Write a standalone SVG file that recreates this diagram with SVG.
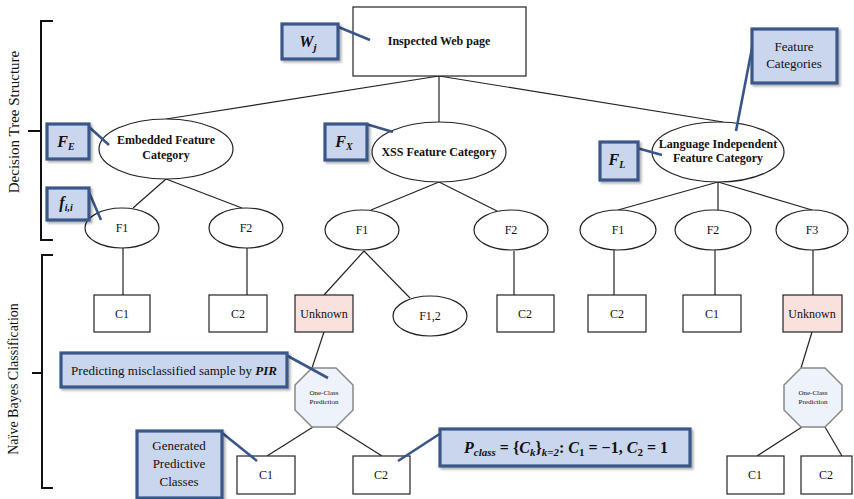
<svg xmlns="http://www.w3.org/2000/svg" width="854" height="499" viewBox="0 0 854 499">
<defs>
<filter id="sh" x="-10%" y="-10%" width="130%" height="140%">
<feDropShadow dx="2" dy="2" stdDeviation="1.2" flood-color="#000" flood-opacity="0.3"/>
</filter>
<style>
.t{font-family:"Liberation Serif","Times New Roman",serif;fill:#111;text-anchor:middle}
.b{font-weight:bold}
.n{fill:#fff;stroke:#222;stroke-width:1.2}
.unk{fill:#f9e1dd;stroke:#222;stroke-width:1.2}
.oct{fill:#eef2fb;stroke:#888;stroke-width:1.5}
.co{fill:#c9d6ee;stroke:#3a5689;stroke-width:3.2;filter:url(#sh)}
.ld{stroke:#3a5689;stroke-width:2.6;fill:none}
.e{stroke:#222;stroke-width:1.2;fill:none}
.br{stroke:#111;stroke-width:2;fill:none}
.m{font-family:"Liberation Serif","DejaVu Serif",serif;font-weight:bold;fill:#111;text-anchor:middle}
</style>
</defs>
<rect width="854" height="499" fill="#fff"/>

<!-- braces -->
<g id="braces">
<path class="br" d="M53,21 H41 V240 H53 M41,131 H28"/>
<path class="br" d="M53,255 H42 V488 H53 M42,373 H32"/>
<text class="t" font-size="15" transform="translate(19,122) rotate(-90)">Decision Tree Structure</text>
<text class="t" font-size="14" transform="translate(18,379) rotate(-90)">Naïve Bayes Classification</text>
</g>

<!-- connectors -->
<g id="connectors">
<line class="e" x1="439" y1="76" x2="166" y2="119"/>
<line class="e" x1="439" y1="76" x2="439" y2="122"/>
<line class="e" x1="439" y1="76" x2="723" y2="122"/>
<line class="e" x1="166" y1="179" x2="133" y2="208"/>
<line class="e" x1="166" y1="179" x2="242" y2="208"/>
<line class="e" x1="439" y1="182" x2="371" y2="210"/>
<line class="e" x1="439" y1="182" x2="497" y2="211"/>
<line class="e" x1="718" y1="182" x2="618" y2="210"/>
<line class="e" x1="718" y1="182" x2="718" y2="210"/>
<line class="e" x1="718" y1="182" x2="812" y2="210"/>
<line class="e" x1="123" y1="248" x2="123" y2="295"/>
<line class="e" x1="247" y1="248" x2="247" y2="295"/>
<line class="e" x1="364" y1="251" x2="324" y2="295"/>
<line class="e" x1="364" y1="251" x2="410" y2="298"/>
<line class="e" x1="514" y1="251" x2="514" y2="295"/>
<line class="e" x1="614" y1="250" x2="614" y2="295"/>
<line class="e" x1="715" y1="250" x2="715" y2="295"/>
<line class="e" x1="813" y1="250" x2="813" y2="295"/>
<line class="e" x1="324" y1="332" x2="312" y2="368"/>
<line class="e" x1="313" y1="427" x2="267" y2="456"/>
<line class="e" x1="336" y1="427" x2="382" y2="456"/>
<line class="e" x1="812" y1="332" x2="801" y2="368"/>
<line class="e" x1="802" y1="427" x2="757" y2="456"/>
<line class="e" x1="825" y1="427" x2="842" y2="456"/>
</g>

<!-- nodes -->
<g id="root"><rect class="n" x="353" y="7" width="173" height="69"/><text class="t b" font-size="12" x="439" y="45">Inspected Web page</text></g>
<g id="catE"><ellipse class="n" cx="166" cy="149" rx="67" ry="30"/><text class="t b" font-size="12" x="166" y="144">Embedded Feature</text><text class="t b" font-size="12" x="166" y="159">Category</text></g>
<g id="catX"><ellipse class="n" cx="439" cy="152" rx="67" ry="30"/><text class="t b" font-size="12" x="439" y="156">XSS Feature Category</text></g>
<g id="catL"><ellipse class="n" cx="718" cy="152" rx="66" ry="30"/><text class="t b" font-size="12" x="718" y="148">Language Independent</text><text class="t b" font-size="12" x="718" y="162">Feature Category</text></g>

<g id="e_f1"><ellipse class="n" cx="122" cy="228" rx="37" ry="20"/><text class="t" font-size="12" x="122" y="232">F1</text></g>
<g id="e_f2"><ellipse class="n" cx="246" cy="228" rx="37" ry="20"/><text class="t" font-size="12" x="246" y="232">F2</text></g>
<g id="x_f1"><ellipse class="n" cx="362" cy="230" rx="37" ry="20"/><text class="t" font-size="12" x="362" y="234">F1</text></g>
<g id="x_f2"><ellipse class="n" cx="511" cy="230" rx="37" ry="20"/><text class="t" font-size="12" x="511" y="234">F2</text></g>
<g id="l_f1"><ellipse class="n" cx="618" cy="230" rx="38" ry="20"/><text class="t" font-size="12" x="618" y="234">F1</text></g>
<g id="l_f2"><ellipse class="n" cx="713" cy="230" rx="38" ry="20"/><text class="t" font-size="12" x="713" y="234">F2</text></g>
<g id="l_f3"><ellipse class="n" cx="812" cy="230" rx="36" ry="20"/><text class="t" font-size="12" x="812" y="234">F3</text></g>

<g id="c_e1"><rect class="n" x="94" y="295" width="56" height="37"/><text class="t" font-size="12" x="122" y="318">C1</text></g>
<g id="c_e2"><rect class="n" x="209" y="295" width="58" height="37"/><text class="t" font-size="12" x="238" y="318">C2</text></g>
<g id="unk1"><rect class="unk" x="295" y="295" width="58" height="37"/><text class="t" font-size="12" x="324" y="318">Unknown</text></g>
<g id="x_f12"><ellipse class="n" cx="430" cy="316" rx="37" ry="20"/><text class="t" font-size="12" x="430" y="320">F1,2</text></g>
<g id="c_x2"><rect class="n" x="497" y="295" width="57" height="37"/><text class="t" font-size="12" x="525" y="318">C2</text></g>
<g id="c_l2"><rect class="n" x="588" y="295" width="58" height="37"/><text class="t" font-size="12" x="617" y="318">C2</text></g>
<g id="c_l1"><rect class="n" x="683" y="295" width="58" height="37"/><text class="t" font-size="12" x="712" y="318">C1</text></g>
<g id="unk2"><rect class="unk" x="783" y="295" width="59" height="37"/><text class="t" font-size="12" x="812" y="318">Unknown</text></g>

<g id="oct1"><polygon class="oct" points="312,368 336,368 353,385 353,410 336,427 312,427 295,410 295,385"/><text class="t" font-size="7" x="324" y="395">One-Class</text><text class="t" font-size="7" x="324" y="404">Prediction</text></g>
<g id="oct2"><polygon class="oct" points="801,368 825,368 842,385 842,410 825,427 801,427 784,410 784,385"/><text class="t" font-size="7" x="813" y="395">One-Class</text><text class="t" font-size="7" x="813" y="404">Prediction</text></g>

<g id="b_c1"><rect class="n" x="237" y="456" width="58" height="38"/><text class="t" font-size="12" x="266" y="479">C1</text></g>
<g id="b_c2"><rect class="n" x="353" y="456" width="57" height="38"/><text class="t" font-size="12" x="381" y="479">C2</text></g>
<g id="r_c1"><rect class="n" x="727" y="456" width="57" height="38"/><text class="t" font-size="12" x="755" y="479">C1</text></g>
<g id="r_c2"><rect class="n" x="801" y="456" width="51" height="38"/><text class="t" font-size="12" x="826" y="479">C2</text></g>

<!-- callouts -->
<g id="co_w">
<line class="ld" x1="336" y1="26" x2="370" y2="40"/>
<rect class="co" x="282" y="24" width="56" height="35"/>
<text class="m" font-size="16" x="308" y="47"><tspan font-style="italic">W</tspan><tspan font-style="italic" font-size="11" dy="4">j</tspan></text>
</g>
<g id="co_fe">
<line class="ld" x1="88" y1="126" x2="109" y2="145"/>
<rect class="co" x="47" y="124" width="42" height="35"/>
<text class="m" font-size="16" x="66" y="147"><tspan font-style="italic">F</tspan><tspan font-style="italic" font-size="10" dy="3">E</tspan></text>
</g>
<g id="co_fii">
<line class="ld" x1="88" y1="190" x2="101" y2="220"/>
<rect class="co" x="47" y="188" width="42" height="32"/>
<text class="m" font-size="16" x="66" y="208"><tspan font-style="italic">f</tspan><tspan font-style="italic" font-size="10" dy="3">i,i</tspan></text>
</g>
<g id="co_fx">
<line class="ld" x1="366" y1="124" x2="393" y2="132"/>
<rect class="co" x="325" y="124" width="42" height="36"/>
<text class="m" font-size="16" x="344" y="147"><tspan font-style="italic">F</tspan><tspan font-style="italic" font-size="10" dy="3">X</tspan></text>
</g>
<g id="co_fl">
<line class="ld" x1="637" y1="148" x2="662" y2="155"/>
<rect class="co" x="600" y="142" width="38" height="38"/>
<text class="m" font-size="16" x="617" y="165"><tspan font-style="italic">F</tspan><tspan font-style="italic" font-size="10" dy="3">L</tspan></text>
</g>
<g id="co_fc">
<line class="ld" x1="753" y1="43" x2="736" y2="131"/>
<rect class="co" x="752" y="29" width="85" height="54"/>
<text class="t" font-size="13" x="794" y="51">Feature</text>
<text class="t" font-size="13" x="794" y="68">Categories</text>
</g>
<g id="co_pir">
<line class="ld" x1="286" y1="355" x2="328" y2="378"/>
<rect class="co" x="61" y="353" width="226" height="34"/>
<text class="t" font-size="13" x="174" y="375">Predicting misclassified sample by <tspan font-style="italic" font-weight="bold">PIR</tspan></text>
</g>
<g id="co_gen">
<line class="ld" x1="221" y1="432" x2="257" y2="461"/>
<rect class="co" x="137" y="431" width="85" height="67"/>
<text class="t" font-size="13" x="179" y="450">Generated</text>
<text class="t" font-size="13" x="179" y="468">Predictive</text>
<text class="t" font-size="13" x="179" y="486">Classes</text>
</g>
<g id="co_pc">
<line class="ld" x1="441" y1="433" x2="398" y2="461"/>
<rect class="co" x="440" y="429" width="250" height="37"/>
<text class="m" font-size="16" x="566" y="453"><tspan font-style="italic">P</tspan><tspan font-style="italic" font-size="11" dy="3">class</tspan><tspan dy="-3"> = {</tspan><tspan font-style="italic">C</tspan><tspan font-style="italic" font-size="11" dy="3">k</tspan><tspan dy="-3">}</tspan><tspan font-style="italic" font-size="11" dy="3">k=2</tspan><tspan dy="-3">: </tspan><tspan font-style="italic">C</tspan><tspan font-size="11" dy="3">1</tspan><tspan dy="-3"> = −1, </tspan><tspan font-style="italic">C</tspan><tspan font-size="11" dy="3">2</tspan><tspan dy="-3"> = 1</tspan></text>
</g>
</svg>
